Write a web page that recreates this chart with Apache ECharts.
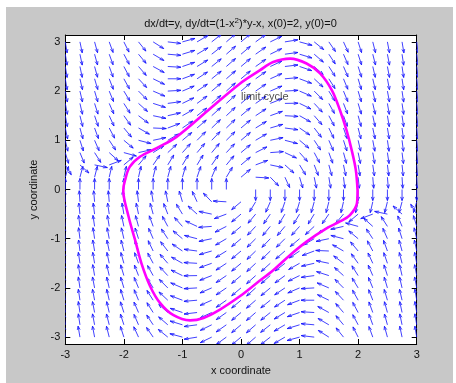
<!DOCTYPE html>
<html><head><meta charset="utf-8">
<script src="https://cdn.jsdelivr.net/npm/echarts@6/dist/echarts.min.js"></script>
<style>
html,body{margin:0;padding:0;background:#fff;width:456px;height:383px;overflow:hidden}
#c{position:absolute;left:6px;top:7px;width:447px;height:376px;}
</style>
</head><body><div id="c"></div>
<script>
// ---- data ----
const xTicks = [-3, -2, -1, 0, 1, 2, 3];
const yTicks = [-3, -2, -1, 0, 1, 2, 3];
const gridX = [-3,-2.75,-2.5,-2.25,-2,-1.75,-1.5,-1.25,-1,-0.75,-0.5,-0.25,0,0.25,0.5,0.75,1,1.25,1.5,1.75,2,2.25,2.5,2.75,3];
const gridY = [3,2.75,2.5,2.25,2,1.75,1.5,1.25,1,0.75,0.5,0.25,0,-0.25,-0.5,-0.75,-1,-1.25,-1.5,-1.75,-2,-2.25,-2.5,-2.75,-3];
// arrow direction (degrees, data space) for each row of gridY, columns follow gridX
const arrowAngles = [
 [-82,-80,-77,-73,-67,-56,-37,-8,18,35,43,46,45,41,30,11,-18,-44,-60,-69,-75,-78,-81,-82,-84],
 [-82,-80,-77,-73,-66,-55,-35,-6,20,35,43,46,45,40,30,9,-20,-46,-61,-70,-75,-78,-81,-83,-84],
 [-82,-80,-77,-73,-66,-54,-33,-4,22,36,44,46,45,40,29,8,-22,-47,-62,-70,-75,-79,-81,-83,-84],
 [-82,-79,-76,-72,-65,-52,-30,0,24,38,44,46,45,40,28,6,-24,-48,-62,-71,-76,-79,-81,-83,-84],
 [-81,-79,-76,-71,-63,-50,-27,4,27,39,45,47,45,39,27,4,-27,-50,-63,-71,-76,-79,-81,-83,-84],
 [-81,-79,-75,-70,-62,-47,-21,9,30,41,46,47,45,39,25,1,-30,-52,-65,-72,-76,-79,-82,-83,-84],
 [-81,-78,-74,-69,-59,-42,-14,15,34,43,47,48,45,38,23,-4,-34,-54,-66,-73,-77,-80,-82,-83,-84],
 [-80,-77,-73,-66,-55,-34,-3,24,39,46,49,49,45,36,19,-9,-39,-57,-68,-74,-78,-80,-82,-84,-85],
 [-79,-75,-70,-61,-45,-17,14,35,45,50,51,50,45,35,14,-17,-45,-61,-70,-75,-79,-81,-83,-84,-85],
 [-76,-71,-62,-47,-18,15,37,48,53,55,55,52,45,31,5,-29,-53,-66,-73,-77,-80,-82,-83,-84,-85],
 [-63,-47,-14,24,45,55,60,63,63,63,60,55,45,24,-14,-47,-63,-72,-77,-80,-82,-83,-84,-85,-86],
 [76,77,78,79,79,79,78,77,76,74,70,63,45,-4,-51,-69,-76,-80,-82,-84,-85,-86,-86,-87,-87],
 [90,90,90,90,90,90,90,90,90,90,90,90,null,-90,-90,-90,-90,-90,-90,-90,-90,-90,-90,-90,-90],
 [93,93,94,94,95,96,98,100,104,111,129,176,225,243,250,254,256,257,258,259,259,259,258,257,256],
 [94,95,96,97,98,100,103,108,117,133,166,204,225,235,240,243,243,243,240,235,225,204,166,133,117],
 [95,96,97,98,100,103,107,114,127,151,185,211,225,232,235,235,233,228,217,195,162,133,118,109,104],
 [95,96,97,99,101,105,110,119,135,163,194,215,225,230,231,230,225,215,194,163,135,119,110,105,101],
 [95,96,98,100,102,106,112,123,141,171,199,216,225,229,229,226,219,204,177,146,125,114,107,103,100],
 [96,97,98,100,103,107,114,126,146,176,203,218,225,228,227,223,214,195,166,138,121,111,106,102,99],
 [96,97,98,101,104,108,115,128,150,181,205,219,225,227,226,221,210,189,159,133,118,110,105,101,99],
 [96,97,99,101,104,109,117,130,153,184,207,219,225,227,225,219,207,184,153,130,117,109,104,101,99],
 [96,97,99,101,104,109,118,132,156,186,208,220,225,226,224,218,204,180,150,128,115,108,104,101,98],
 [96,97,99,101,105,110,118,133,158,188,209,220,225,226,224,216,202,176,147,126,114,107,103,100,98],
 [96,97,99,102,105,110,119,134,160,189,210,220,225,226,223,215,200,174,145,125,114,107,103,100,98],
 [96,98,99,102,105,111,120,136,162,191,210,221,225,226,223,215,198,172,143,124,113,107,103,100,98]
];
const cycleX = [1.99,1.96,1.89,1.80,1.69,1.55,1.35,1.12,0.84,0.55,0.32,-0.02,-0.56,-1.10,-1.44,-1.72,-1.90,-1.98,-2.01,-1.92,-1.81,-1.70,-1.55,-1.38,-1.16,-0.87,-0.64,-0.36,-0.02,0.27,0.55,0.84,1.12,1.46,1.69,1.86,1.98,1.99];
const cycleY = [-0.01,0.40,0.80,1.21,1.61,2.02,2.36,2.56,2.66,2.59,2.42,2.15,1.61,1.07,0.84,0.67,0.46,0.19,-0.01,-0.55,-1.02,-1.50,-1.97,-2.31,-2.55,-2.66,-2.61,-2.44,-2.17,-1.90,-1.64,-1.33,-1.06,-0.79,-0.65,-0.52,-0.28,-0.01];
const labelPoint = [0.0, 1.88];
const labelText = 'limit cycle';
const titleText = 'dx/dt=y, dy/dt=(1-x{sup|2})*y-x, x(0)=2, y(0)=0';

// ---- build ----
const arrowData = [];
gridY.forEach((gy, i) => gridX.forEach((gx, j) => {
  const a = arrowAngles[i][j];
  if (a !== null) arrowData.push([gx, gy, a]);
}));
const cycleData = cycleX.map((x, i) => [x, cycleY[i]]);

const FONT = "'Liberation Sans', Arial, sans-serif";
const ARROW_LEN = 0.225, HEAD_A = 0.33, HEAD_B = 0.33;

function renderArrow(params, api) {
  const x = api.value(0), y = api.value(1), a = api.value(2) * Math.PI / 180;
  const u = ARROW_LEN * Math.cos(a), v = ARROW_LEN * Math.sin(a);
  const tx = x + u, ty = y + v;
  const p0 = api.coord([x, y]), pt = api.coord([tx, ty]);
  const h1 = api.coord([tx - HEAD_A * (u + HEAD_B * v), ty - HEAD_A * (v - HEAD_B * u)]);
  const h2 = api.coord([tx - HEAD_A * (u - HEAD_B * v), ty - HEAD_A * (v + HEAD_B * u)]);
  const st = { stroke: '#1010ff', lineWidth: 0.8, fill: null };
  return { type: 'group', children: [
    { type: 'polyline', shape: { points: [p0, pt] }, style: st },
    { type: 'polyline', shape: { points: [h1, pt, h2] }, style: st }
  ]};
}

const axisCommon = {
  type: 'value', splitLine: { show: false },
  axisLine: { show: true, onZero: false, lineStyle: { color: '#000', width: 1 } },
  axisTick: { show: true, inside: true, length: 5, lineStyle: { color: '#000' } }
};
const labelStyle = { color: '#111', fontSize: 11, fontFamily: FONT };

const chart = echarts.init(document.getElementById('c'), null, { renderer: 'canvas' });
chart.setOption({
  backgroundColor: '#c8c8c8',
  animation: false,
  graphic: [{
    type: 'text', x: 234.5, y: 16.5,
    style: {
      text: titleText, align: 'center', verticalAlign: 'middle',
      fill: '#111', fontSize: 11, fontFamily: FONT,
      rich: { sup: { fontSize: 8, fontFamily: FONT, fill: '#111', verticalAlign: 'top', padding: [0, 0, 6, 0] } }
    }
  }],
  grid: { left: 59.3, right: 36.3, top: 28, bottom: 39, show: true, backgroundColor: '#fff', borderWidth: 0 },
  xAxis: [
    Object.assign({}, axisCommon, {
      position: 'bottom', min: -3, max: 3, interval: 1,
      axisTick: Object.assign({}, axisCommon.axisTick, { customValues: xTicks }),
      axisLabel: Object.assign({}, labelStyle, { margin: 5, customValues: xTicks }),
      name: 'x coordinate', nameLocation: 'middle', nameGap: 21,
      nameTextStyle: labelStyle
    }),
    Object.assign({}, axisCommon, {
      position: 'top', min: -3, max: 3, interval: 1,
      axisTick: Object.assign({}, axisCommon.axisTick, { customValues: xTicks }),
      axisLabel: { show: false }
    })
  ],
  yAxis: [
    Object.assign({}, axisCommon, {
      position: 'left', min: -3.14, max: 3.14,
      axisTick: Object.assign({}, axisCommon.axisTick, { customValues: yTicks }),
      axisLabel: Object.assign({}, labelStyle, { margin: 5, customValues: yTicks }),
      name: 'y coordinate', nameLocation: 'middle', nameGap: 18, nameRotate: 90,
      nameTextStyle: labelStyle
    }),
    Object.assign({}, axisCommon, {
      position: 'right', min: -3.14, max: 3.14,
      axisTick: Object.assign({}, axisCommon.axisTick, { customValues: yTicks }),
      axisLabel: { show: false }
    })
  ],
  series: [
    {
      type: 'custom', name: 'field', clip: true, xAxisIndex: 0, yAxisIndex: 0,
      renderItem: renderArrow, encode: { x: 0, y: 1 }, data: arrowData, silent: true
    },
    {
      type: 'line', name: 'limit cycle', data: cycleData, smooth: 0.35, showSymbol: false,
      lineStyle: { color: '#ff00ff', width: 2.6 }, z: 5, silent: true
    },
    {
      type: 'scatter', data: [labelPoint], symbolSize: 0, z: 6, silent: true,
      label: { show: true, position: 'right', distance: 0, formatter: labelText,
        color: '#222', fontSize: 11, fontFamily: FONT }
    }
  ]
});
</script>
</body></html>
